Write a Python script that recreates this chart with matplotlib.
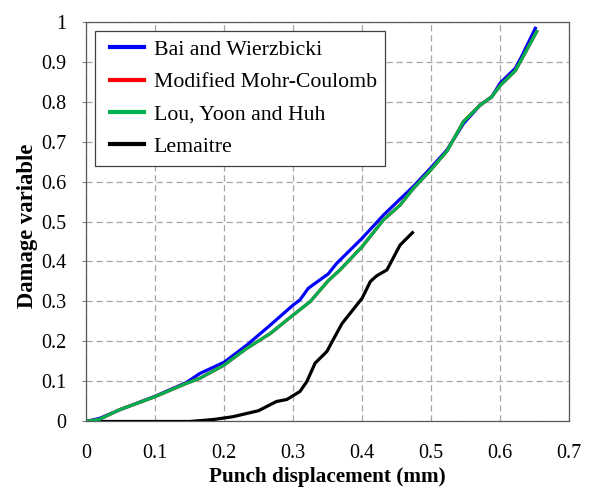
import matplotlib
matplotlib.use("Agg")
import matplotlib.pyplot as plt
from matplotlib.lines import Line2D
from matplotlib.legend_handler import HandlerLine2D

# Bai and Wierzbicki
bai_x = [0, 0.02, 0.05, 0.1, 0.145, 0.165, 0.2, 0.233, 0.267, 0.3, 0.31, 0.322,
         0.351, 0.363, 0.4, 0.431, 0.455, 0.474, 0.499, 0.523, 0.547, 0.571,
         0.588, 0.6, 0.622, 0.631, 0.651]
bai_y = [0, 0.008, 0.03, 0.063, 0.097, 0.12, 0.148, 0.191, 0.241, 0.291, 0.304,
         0.333, 0.369, 0.395, 0.458, 0.516, 0.556, 0.587, 0.633, 0.679, 0.745,
         0.791, 0.812, 0.846, 0.883, 0.912, 0.983]

# Lou, Yoon and Huh (Modified Mohr-Coulomb lies underneath it)
lou_x = [0, 0.019, 0.048, 0.1, 0.145, 0.165, 0.2, 0.233, 0.267, 0.3, 0.325,
         0.351, 0.368, 0.4, 0.431, 0.455, 0.474, 0.499, 0.523, 0.547, 0.571,
         0.588, 0.6, 0.622, 0.631, 0.653]
lou_y = [0, 0.005, 0.029, 0.062, 0.095, 0.108, 0.141, 0.183, 0.22, 0.266, 0.3,
         0.352, 0.379, 0.437, 0.504, 0.541, 0.582, 0.628, 0.676, 0.75, 0.791,
         0.812, 0.84, 0.877, 0.905, 0.975]
mmc_x = lou_x
mmc_y = lou_y

# Lemaitre
lem_x = [0, 0.1, 0.15, 0.165, 0.185, 0.213, 0.25, 0.276, 0.291, 0.31, 0.32,
         0.332, 0.349, 0.358, 0.371, 0.4, 0.412, 0.421, 0.436, 0.455, 0.473]
lem_y = [0, 0, 0.0, 0.002, 0.005, 0.012, 0.027, 0.05, 0.055, 0.075, 0.1, 0.146,
         0.175, 0.204, 0.245, 0.308, 0.35, 0.364, 0.379, 0.441, 0.472]

x_ticks = [0, 0.1, 0.2, 0.3, 0.4, 0.5, 0.6, 0.7]
x_labels = ["0", "0.1", "0.2", "0.3", "0.4", "0.5", "0.6", "0.7"]
y_ticks = [0, 0.1, 0.2, 0.3, 0.4, 0.5, 0.6, 0.7, 0.8, 0.9, 1.0]
y_labels = ["0", "0.1", "0.2", "0.3", "0.4", "0.5", "0.6", "0.7", "0.8", "0.9", "1"]

plt.rcParams["font.family"] = ["Liberation Serif", "DejaVu Serif"]

fig = plt.figure(figsize=(5.91, 4.88), dpi=100)
ax = fig.add_axes([0.1455, 0.1363, 0.8175, 0.8196])

lw = 2.3
ax.plot(bai_x, bai_y, color="#0000ff", lw=lw, label="Bai and Wierzbicki", zorder=3)
ax.plot(mmc_x, mmc_y, color="#ff0000", lw=lw, label="Modified Mohr-Coulomb", zorder=3)
ax.plot(lou_x, lou_y, color="#00b050", lw=lw, label="Lou, Yoon and Huh", zorder=4)
ax.plot(lem_x, lem_y, color="#000000", lw=lw, label="Lemaitre", zorder=3)

ax.set_xlim(0, 0.7)
ax.set_ylim(0, 1)
ax.set_xticks(x_ticks)
ax.set_xticklabels(x_labels)
ax.set_yticks(y_ticks)
ax.set_yticklabels(y_labels)
ax.tick_params(axis="y", length=3, width=0.8, color="#808080", pad=11, labelsize=14.5)
ax.tick_params(axis="x", length=0, pad=16, labelsize=14.5)
ax.grid(True, color="#a6a6a6", linestyle=(0, (5, 3)), linewidth=0.9)
ax.set_axisbelow(True)
for sp in ax.spines.values():
    sp.set_color("#595959")
    sp.set_linewidth(0.9)

ax.set_xlabel("Punch displacement (mm)", fontsize=15.3, fontweight="bold")
ax.xaxis.set_label_coords(0.5, -0.114)
ax.set_ylabel("Damage variable", fontsize=16.3, fontweight="bold")
ax.yaxis.set_label_coords(-0.1, 0.49)

leg = ax.legend(loc="upper left", bbox_to_anchor=(0.0186, 0.976), borderaxespad=0,
                fontsize=15.7, fancybox=False, framealpha=1, edgecolor="#404040",
                handlelength=1.83, handletextpad=0.46, labelspacing=0.55,
                borderpad=0.4, handler_map={Line2D: HandlerLine2D(xpad=0.28)})
leg.get_frame().set_linewidth(0.9)
for line in leg.get_lines():
    line.set_linewidth(3)

fig.savefig("out.png", dpi=100)
